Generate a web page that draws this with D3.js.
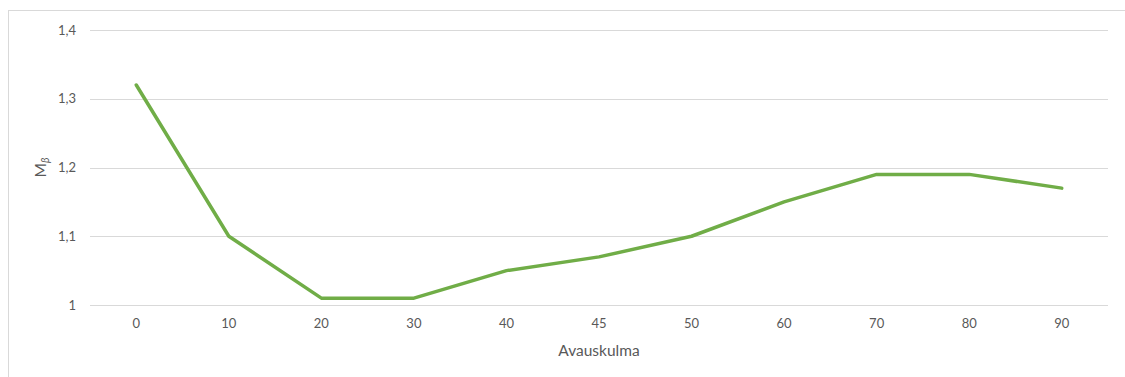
<!DOCTYPE html>
<html>
<head>
<meta charset="utf-8">
<script src="https://cdn.jsdelivr.net/npm/d3@7"></script>
<style>
  html, body { margin: 0; padding: 0; background: #fff; }
  svg { display: block; }
  text { font-family: Lato, "Open Sans", sans-serif; fill: #595959; }
</style>
</head>
<body>
<svg id="chart" width="1125" height="377"></svg>
<script>
// Opening angle categories and the corresponding M_beta values
const angles = ["0", "10", "20", "30", "40", "45", "50", "60", "70", "80", "90"];
const mBeta = [1.32, 1.10, 1.01, 1.01, 1.05, 1.07, 1.10, 1.15, 1.19, 1.19, 1.17];
const yTicks = [1, 1.1, 1.2, 1.3, 1.4];

const svg = d3.select("#chart");
const margin = { left: 90, right: 1108, top: 30, bottom: 305 };

// Chart area frame
svg.append("rect")
  .attr("x", 8.5).attr("y", 10.5)
  .attr("width", 1130).attr("height", 380)
  .attr("fill", "none").attr("stroke", "#D9D9D9").attr("stroke-width", 1);

const x = d3.scaleBand().domain(angles).range([margin.left, margin.right]);
const y = d3.scaleLinear().domain([1, 1.4]).range([margin.bottom, margin.top]);

const fmt = v => String(v).replace(".", ",");

// Horizontal gridlines with value labels
const yAxis = svg.append("g")
  .attr("transform", `translate(${margin.left},0)`)
  .call(d3.axisLeft(y).tickValues(yTicks).tickFormat(fmt)
    .tickSize(-(margin.right - margin.left)).tickPadding(14));
yAxis.select(".domain").remove();
yAxis.selectAll("line").attr("stroke", "#D9D9D9").attr("stroke-width", 1)
  .attr("shape-rendering", "crispEdges");
yAxis.selectAll("text").attr("font-size", 13).attr("fill", "#595959")
  .style("font-family", "Lato, 'Open Sans', sans-serif");

// Category labels along the bottom
const xAxis = svg.append("g")
  .attr("transform", `translate(0,${margin.bottom})`)
  .call(d3.axisBottom(x).tickSize(0).tickPadding(14));
xAxis.select(".domain").remove();
xAxis.selectAll("text").attr("font-size", 13).attr("fill", "#595959")
  .style("font-family", "Lato, 'Open Sans', sans-serif");

// Data line
const line = d3.line()
  .x((d, i) => x(angles[i]) + x.bandwidth() / 2)
  .y(d => y(d));
svg.append("path")
  .datum(mBeta)
  .attr("d", line)
  .attr("fill", "none")
  .attr("stroke", "#70AD47")
  .attr("stroke-width", 3.5)
  .attr("stroke-linejoin", "round")
  .attr("stroke-linecap", "round");

// Axis titles
svg.append("text")
  .attr("x", (margin.left + margin.right) / 2)
  .attr("y", 356)
  .attr("text-anchor", "middle")
  .attr("font-size", 15.5)
  .text("Avauskulma");

const yTitle = svg.append("text")
  .attr("transform", `translate(46,${(margin.top + margin.bottom) / 2}) rotate(-90)`)
  .attr("text-anchor", "middle")
  .attr("font-size", 15.5);
yTitle.append("tspan").text("M");
yTitle.append("tspan")
  .attr("font-size", 10.5)
  .attr("font-style", "italic")
  .attr("dy", 3)
  .text("β");
</script>
</body>
</html>
